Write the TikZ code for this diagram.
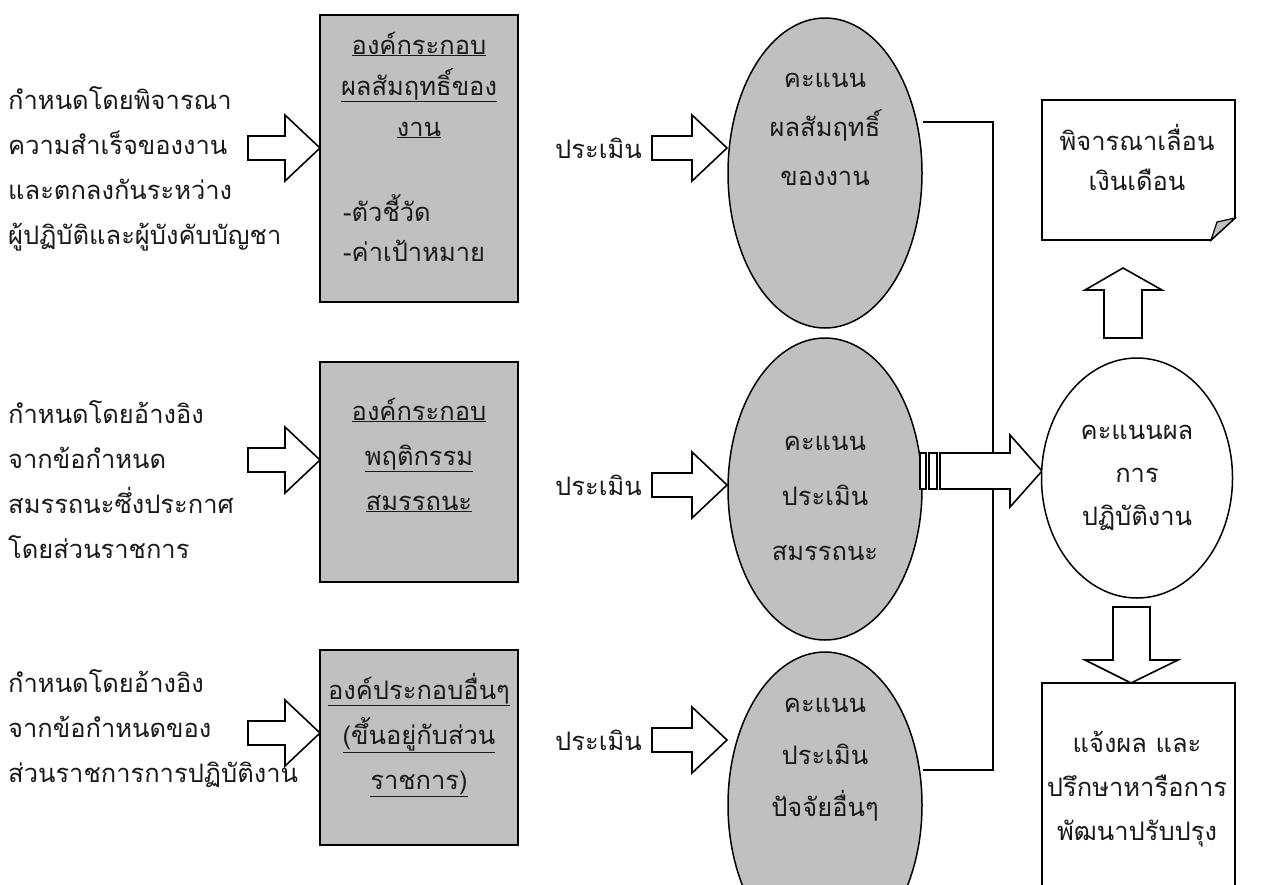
\documentclass[tikz,border=0pt]{standalone}
\usepackage{fontspec}
\newfontfamily\thai[Script=Thai]{Loma}
\usetikzlibrary{shapes.geometric}
\definecolor{boxgray}{HTML}{C0C0C0}
\definecolor{txtcol}{HTML}{1A1A1A}
\begin{document}
\begin{tikzpicture}[x=1pt,y=-1pt,
  every node/.style={font=\thai\fontsize{25.5}{45}\selectfont, inner sep=0pt, text=txtcol},
  gbox/.style={draw, line width=2.2pt, fill=boxgray},
  wbox/.style={draw, line width=1.8pt, fill=white},
  gell/.style={ellipse, draw, line width=1.5pt, fill=boxgray},
  well/.style={ellipse, draw, line width=1.5pt, fill=white},
  barrow/.style={draw, line width=1.6pt, fill=white, line join=miter},
  conn/.style={draw, line width=1.6pt},
  txt/.style={align=left, anchor=west},
  ctxt/.style={align=center}]
\useasboundingbox (0,0) rectangle (1264,884);
\clip (0,0) rectangle (1264,884);

% right-pointing block arrow: #1 x start, #2 x tip, #3 y centre
\def\blockR#1#2#3{\draw[barrow] (#1,#3-12) -- (#2-35,#3-12) -- (#2-35,#3-33) -- (#2,#3) -- (#2-35,#3+33) -- (#2-35,#3+12) -- (#1,#3+12) -- cycle;}

% left texts
\node[txt] (t1) at (8,168.5) {กำหนดโดยพิจารณา\\ความสำเร็จของงาน\\และตกลงกันระหว่าง\\ผู้ปฏิบัติและผู้บังคับบัญชา};
\node[txt] (t2) at (8,480) {กำหนดโดยอ้างอิง\\จากข้อกำหนด\\สมรรถนะซึ่งประกาศ\\โดยส่วนราชการ};
\node[txt] (t3) at (8,729) {กำหนดโดยอ้างอิง\\จากข้อกำหนดของ\\ส่วนราชการการปฏิบัติงาน};

% input arrows
\blockR{248}{320}{148}
\blockR{248}{320}{460}
\blockR{248}{320}{733}

% grey boxes
\node[gbox, minimum width=198, minimum height=287] (b1) at (419,158.5) {};
\node[gbox, minimum width=198, minimum height=220] (b2) at (419,472) {};
\node[gbox, minimum width=198, minimum height=195] (b3) at (419,747.5) {};

\node[ctxt, font=\thai\fontsize{25.5}{41}\selectfont] (b1t) at (419,85) {\underline{องค์กระกอบ}\\\underline{ผลสัมฤทธิ์ของ}\\\underline{งาน}};
\node[txt, font=\thai\fontsize{25.5}{40}\selectfont] (b1s) at (343,228) {-ตัวชี้วัด\\-ค่าเป้าหมาย};
\node[ctxt] (b2t) at (419,455) {\underline{องค์กระกอบ}\\\underline{พฤติกรรม}\\\underline{สมรรถนะ}};
\node[ctxt] (b3t) at (419,735) {\underline{องค์ประกอบอื่นๆ}\\\underline{(ขึ้นอยู่กับส่วน}\\\underline{ราชการ)}};

% evaluate labels and arrows
\node[txt] (p1) at (555,148) {ประเมิน};
\node[txt] (p2) at (555,485) {ประเมิน};
\node[txt] (p3) at (555,740) {ประเมิน};
\blockR{652}{727}{148}
\blockR{652}{727}{485}
\blockR{652}{727}{740}

% grey ellipses
\node[gell, minimum width=194, minimum height=310] (e1) at (825,173) {};
\node[gell, minimum width=194, minimum height=302] (e2) at (825,489) {};
\node[gell, minimum width=194, minimum height=306] (e3) at (825,805) {};
\node[ctxt, font=\thai\fontsize{25.5}{49}\selectfont] (e1t) at (825,129) {คะแนน\\ผลสัมฤทธิ์\\ของงาน};
\node[ctxt, font=\thai\fontsize{25.5}{55}\selectfont] (e2t) at (825,498) {คะแนน\\ประเมิน\\สมรรถนะ};
\node[ctxt, font=\thai\fontsize{25.5}{52}\selectfont] (e3t) at (825,760) {คะแนน\\ประเมิน\\ปัจจัยอื่นๆ};

% connector
\coordinate (j1) at (993,122);
\coordinate (j3) at (993,770);
\draw[conn] (e1.east |- j1) -- (j1) -- (j3) -- (e3.east |- j3);

% striped arrow
\draw[barrow] (920,453) rectangle (926,489);
\draw[barrow] (929,453) rectangle (937,489);
\draw[barrow] (940,453) -- (1010,453) -- (1010,435) -- (1042,471) -- (1010,507) -- (1010,489) -- (940,489) -- cycle;

% white ellipse
\node[well, minimum width=191, minimum height=240] (e4) at (1137,478) {};
\node[ctxt, font=\thai\fontsize{25.5}{43}\selectfont] (e4t) at (1137,478) {คะแนนผล\\การ\\ปฏิบัติงาน};

% note with folded corner
\draw[wbox] (1042,100) -- (1235,100) -- (1235,218) -- (1211,240) -- (1042,240) -- cycle;
\draw[line width=1.2pt, fill=boxgray] (1211,240) -- (1235,218) -- (1217,222) -- cycle;
\node[ctxt, font=\thai\fontsize{25.5}{40}\selectfont] (nt) at (1137,157) {พิจารณาเลื่อน\\เงินเดือน};

% up arrow
\draw[barrow] (1104,338) -- (1104,290) -- (1085,290) -- (1123,268) -- (1162,290) -- (1142,290) -- (1142,338) -- cycle;

% down arrow
\draw[barrow] (1113,607) -- (1150,607) -- (1150,660) -- (1178,660) -- (1131,683) -- (1085,660) -- (1113,660) -- cycle;

% bottom box
\draw[wbox] (1042,683) rectangle (1235,900);
\node[ctxt, font=\thai\fontsize{25.5}{44}\selectfont] (bt) at (1137,789) {แจ้งผล และ\\ปรึกษาหารือการ\\พัฒนาปรับปรุง};
\end{tikzpicture}
\end{document}
